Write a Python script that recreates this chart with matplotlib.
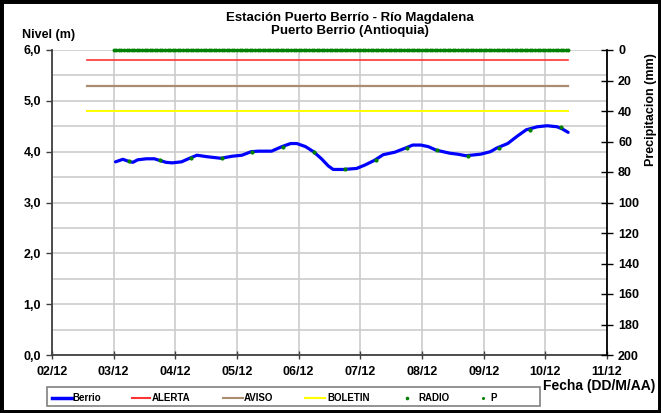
import matplotlib
matplotlib.use("Agg")
import matplotlib.pyplot as plt
from matplotlib.lines import Line2D
from matplotlib.patches import Rectangle
import pandas as pd

plt.rcParams['font.family'] = ['Liberation Sans', 'DejaVu Sans']
plt.rcParams['font.weight'] = 'bold'

start = pd.Timestamp('2012-12-02')

# Berrio level (m): days since 02/12 00:00, level
berrio_days = [1.03, 1.15, 1.24, 1.31, 1.39, 1.53, 1.66, 1.74, 1.85, 1.95, 2.10, 2.23,
               2.35, 2.52, 2.74, 2.92, 3.08, 3.23, 3.35, 3.56, 3.73, 3.87, 3.97, 4.11,
               4.24, 4.37, 4.48, 4.56, 4.73, 4.94, 5.08, 5.23, 5.37, 5.56, 5.73, 5.85,
               5.98, 6.10, 6.23, 6.45, 6.58, 6.71, 6.95, 7.11, 7.21, 7.39, 7.55, 7.69,
               7.87, 8.03, 8.19, 8.27, 8.37]
berrio_level = [3.80, 3.85, 3.81, 3.79, 3.84, 3.86, 3.86, 3.83, 3.79, 3.78, 3.80, 3.87,
                3.93, 3.90, 3.87, 3.91, 3.93, 4.00, 4.01, 4.01, 4.10, 4.16, 4.16, 4.10,
                4.00, 3.86, 3.72, 3.65, 3.65, 3.67, 3.74, 3.83, 3.94, 3.99, 4.07, 4.13,
                4.13, 4.10, 4.03, 3.97, 3.95, 3.92, 3.95, 4.00, 4.07, 4.16, 4.31, 4.43,
                4.49, 4.51, 4.49, 4.45, 4.38]

# RADIO readings (m)
radio_days = [1.25, 1.75, 2.25, 2.75, 3.25, 3.75, 4.25, 4.75, 5.25, 5.75, 6.25, 6.75,
              7.25, 7.75, 8.25]
radio_level = [3.81, 3.83, 3.87, 3.87, 4.00, 4.10, 4.00, 3.65, 3.83, 4.07, 4.03, 3.92,
               4.07, 4.43, 4.49]

# thresholds (m)
alerta = 5.8
aviso = 5.3
boletin = 4.8
threshold_days = [0.565, 8.37]

# precipitation P (mm), hourly from 03/12 00:00
p_start_day = 1.0
p_mm = [0.0] * 178

x_tick_labels = ['02/12', '03/12', '04/12', '05/12', '06/12', '07/12', '08/12',
                 '09/12', '10/12', '11/12']
y_tick_labels = ['0,0', '1,0', '2,0', '3,0', '4,0', '5,0', '6,0']
legend_labels = ['Berrio', 'ALERTA', 'AVISO', 'BOLETIN', 'RADIO', 'P']

C_BERRIO = '#0000ff'
C_ALERTA = '#ff3333'
C_AVISO = '#a98d6e'
C_BOLETIN = '#ffff00'
C_GREEN = '#008000'


def to_dates(days):
    return [start + pd.Timedelta(days=d) for d in days]


fig = plt.figure(figsize=(6.61, 4.13), dpi=100)
W, H = 661, 413
ax = fig.add_axes([52 / W, 1 - 355 / H, (607 - 52) / W, (355 - 50) / H])
ax2 = ax.twinx()

grid_c = '#cccccc'
ax.set_xlim(start, start + pd.Timedelta(days=9))
ax.set_ylim(0, 6)
ax.set_xticks(to_dates(range(10)))
ax.set_xticklabels(x_tick_labels)
ax.set_yticks([0, 1, 2, 3, 4, 5, 6])
ax.set_yticklabels(y_tick_labels)
ax.set_yticks([0.5, 1.5, 2.5, 3.5, 4.5, 5.5], minor=True)
ax.grid(True, which='both', axis='y', color=grid_c, lw=1.2)
ax.grid(True, which='major', axis='x', color=grid_c, lw=1.2)
ax.tick_params(axis='y', which='minor', length=0)
ax.tick_params(axis='y', which='major', direction='out', length=4, width=1,
               color='#404040', labelsize=9, pad=4)
ax.tick_params(axis='x', direction='inout', length=6, width=1, color='#404040',
               labelsize=9, pad=5)
for s in ['top', 'right']:
    ax.spines[s].set_visible(False)
for s in ['left', 'bottom']:
    ax.spines[s].set_color('#404040')
    ax.spines[s].set_linewidth(1.3)
ax.set_axisbelow(True)

ax.plot(to_dates(threshold_days), [alerta, alerta], color=C_ALERTA, lw=1.2)
ax.plot(to_dates(threshold_days), [aviso, aviso], color=C_AVISO, lw=1.6)
ax.plot(to_dates(threshold_days), [boletin, boletin], color=C_BOLETIN, lw=1.4)
ax.plot(to_dates(berrio_days), berrio_level, color=C_BERRIO, lw=2.3,
        solid_capstyle='round', zorder=4)
ax.plot(to_dates(radio_days), radio_level, ls='none', marker='o', ms=3.0,
        color=C_GREEN, mec='none', zorder=5)

p_dates = [start + pd.Timedelta(days=p_start_day) + pd.Timedelta(hours=h)
           for h in range(len(p_mm))]
ax2.plot(p_dates, p_mm, ls='none', marker='o', ms=2.8, color=C_GREEN,
         mec='none', clip_on=False, zorder=5)
ax2.set_ylim(200, 0)
ax2.set_yticks(range(0, 201, 20))
ax2.tick_params(axis='y', direction='inout', length=8, width=1, color='black',
                labelsize=9, pad=4)
for s in ['top', 'left', 'bottom']:
    ax2.spines[s].set_visible(False)
ax2.spines['right'].set_color('black')
ax2.spines['right'].set_linewidth(1.3)
ax2.set_ylabel('Precipitacion (mm)', fontsize=9, fontweight='bold')
ax2.yaxis.set_label_coords((645 - 52) / (607 - 52), (355 - 110) / (355 - 50))
ax2.set_xlim(ax.get_xlim())

fig.text(350 / W, 1 - 12 / H, 'Estación Puerto Berrío - Río Magdalena\nPuerto Berrio (Antioquia)',
         ha='center', va='top', fontsize=9.5, fontweight='bold', linespacing=1.15)
fig.text(22 / W, 1 - 35 / H, 'Nivel (m)', ha='left', va='center', fontsize=9,
         fontweight='bold')
fig.text(655 / W, 1 - 386 / H, 'Fecha (DD/M/AA)', ha='right', va='center', fontsize=10,
         fontweight='bold')

# legend, drawn entry by entry in figure pixels
yl = 1 - 398 / H
entries = [
    (legend_labels[0], dict(color=C_BERRIO, lw=2.5), (52, 72), 72),
    (legend_labels[1], dict(color=C_ALERTA, lw=1.5), (132, 150), 152),
    (legend_labels[2], dict(color=C_AVISO, lw=1.5), (223, 243), 244),
    (legend_labels[3], dict(color=C_BOLETIN, lw=1.5), (305, 325), 327),
    (legend_labels[4], dict(ls='none', marker='o', ms=2.6, color=C_GREEN, mec='none'), (407,), 418),
    (legend_labels[5], dict(ls='none', marker='o', ms=2.2, color=C_GREEN, mec='none'), (483,), 490),
]
for label, style, hx, tx in entries:
    fig.add_artist(Line2D([h / W for h in hx], [yl] * len(hx),
                          transform=fig.transFigure, **style))
    fig.text(tx / W, yl, label, ha='left', va='center', fontsize=7, fontweight='bold')

fig.patches.append(Rectangle((47 / W, 1 - 406 / H), (540 - 47) / W, 19 / H,
                             transform=fig.transFigure, fill=False,
                             edgecolor='#808080', lw=1.2, zorder=9))
fig.patches.append(Rectangle((0, 0), 1, 1, transform=fig.transFigure, fill=False,
                             edgecolor='black', lw=5, zorder=10))

fig.savefig('out.png', dpi=100)
